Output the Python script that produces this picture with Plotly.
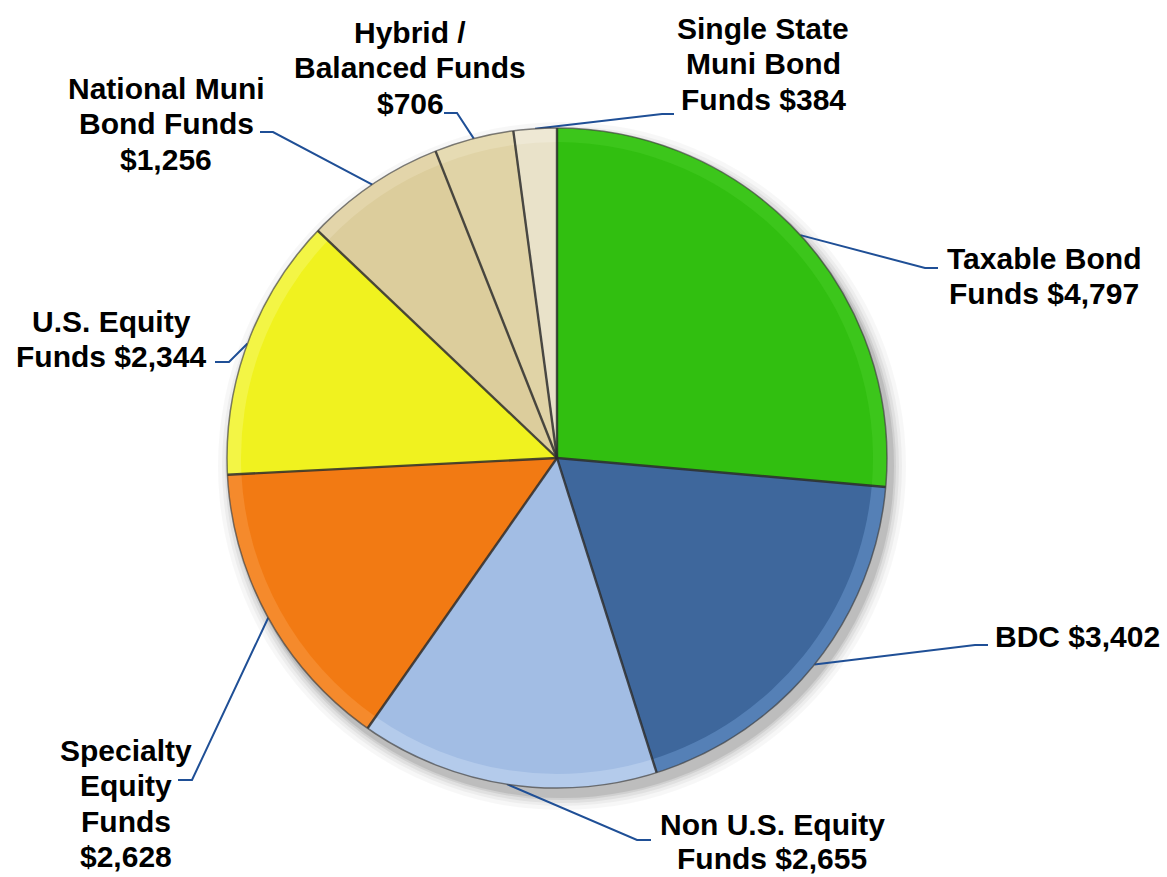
import math
import plotly.graph_objects as go

# Fund categories, clockwise from 12 o'clock
categories = [
    "Taxable Bond Funds", "BDC", "Non U.S. Equity Funds", "Specialty Equity Funds",
    "U.S. Equity Funds", "National Muni Bond Funds", "Hybrid / Balanced Funds",
    "Single State Muni Bond Funds",
]
values = [4797, 3402, 2655, 2628, 2344, 1256, 706, 384]

# Label text, one entry per line; {v} is filled with the formatted value
label_templates = [
    ["Taxable Bond", "Funds {v}"],
    ["BDC {v}"],
    ["Non U.S. Equity", "Funds {v}"],
    ["Specialty", "Equity", "Funds", "{v}"],
    ["U.S. Equity", "Funds {v}"],
    ["National Muni", "Bond Funds", "{v}"],
    ["Hybrid /", "Balanced Funds", "{v}"],
    ["Single State", "Muni Bond", "Funds {v}"],
]

face_colors = ["#31bf10", "#3e679c", "#a2bde4", "#f27a13", "#f0f21f", "#dccd9c", "#e0d3a6", "#e9e2c9"]
rim_colors = ["#3cc61b", "#5580b6", "#b4cbeb", "#f58a2c", "#f3f545", "#e3d5aa", "#e6dbb3", "#eee8d4"]

# Page geometry (pixels)
W, H = 1167, 877
CX, CY, R = 557, 458, 330
R_INNER = 316

# Label placement: text centre x, first line y, line step, leader elbow and end points
label_layout = [
    dict(x=1044, y=258, step=35.5, elbow=(925, 268), end=(938, 268)),
    dict(x=1077, y=636, step=35.5, elbow=(975, 645), end=(988, 645)),
    dict(x=772, y=824, step=34, elbow=(637, 840), end=(651, 840)),
    dict(x=126, y=750, step=35.5, elbow=(192, 780), end=(178, 780)),
    dict(x=111, y=321, step=35.5, elbow=(229, 362), end=(215, 362)),
    dict(x=166, y=88, step=35.5, elbow=(273, 132), end=(260, 132)),
    dict(x=410, y=32, step=35.5, elbow=(457, 113), end=(444, 113)),
    dict(x=763, y=28, step=35.5, elbow=(662, 114), end=(674, 114)),
]

total = sum(values)


def edge_point(frac, r=R):
    ang = 2 * math.pi * frac
    return CX + r * math.sin(ang), CY - r * math.cos(ang)


def domain_for(r):
    return dict(
        x=[(CX - r) / W, (CX + r) / W],
        y=[(H - CY - r) / H, (H - CY + r) / H],
    )


fig = go.Figure()

# Soft drop shadow beneath the pie
shapes = []
for grow, alpha in [(14, 0.03), (10, 0.04), (7, 0.05), (4, 0.07), (2, 0.09)]:
    ox, oy = 5, 8
    rr = R + grow
    shapes.append(dict(
        type="circle", xref="x", yref="y", layer="below",
        x0=CX + ox - rr, x1=CX + ox + rr, y0=CY + oy - rr, y1=CY + oy + rr,
        fillcolor=f"rgba(0,0,0,{alpha})", line=dict(width=0),
    ))

# Outer bevel rim
fig.add_trace(go.Pie(
    labels=categories, values=values, sort=False, direction="clockwise", rotation=0,
    marker=dict(colors=rim_colors, line=dict(width=0)),
    textinfo="none", hoverinfo="label+value", domain=domain_for(R), showlegend=False,
))
# Slice faces
fig.add_trace(go.Pie(
    labels=categories, values=values, sort=False, direction="clockwise", rotation=0,
    marker=dict(colors=face_colors, line=dict(width=0)),
    textinfo="none", hoverinfo="label+value", domain=domain_for(R_INNER), showlegend=False,
))

# Slice separators
cum = 0
for v in values:
    ex, ey = edge_point(cum / total)
    shapes.append(dict(type="line", xref="x", yref="y", x0=CX, y0=CY, x1=ex, y1=ey,
                       line=dict(color="rgba(45,45,45,0.85)", width=2.4)))
    cum += v

# Outer edge
shapes.append(dict(type="circle", xref="x", yref="y", x0=CX - R, x1=CX + R, y0=CY - R, y1=CY + R,
                   line=dict(color="rgba(60,60,60,0.65)", width=1.5)))

# Leader lines and labels
annotations = []
cum = 0
for v, tmpl, lay in zip(values, label_templates, label_layout):
    mid = (cum + v / 2) / total
    cum += v
    ex, ey = edge_point(mid)
    fig.add_trace(go.Scatter(
        x=[ex, lay["elbow"][0], lay["end"][0]], y=[ey, lay["elbow"][1], lay["end"][1]],
        mode="lines", line=dict(color="#1f4f96", width=2), hoverinfo="skip", showlegend=False,
    ))
    value_text = f"${v:,}"
    for k, line in enumerate(tmpl):
        annotations.append(dict(
            x=lay["x"], y=lay["y"] + k * lay["step"], xref="x", yref="y",
            text="<b>" + line.format(v=value_text) + "</b>", showarrow=False,
            xanchor="center", yanchor="middle",
            font=dict(family="Liberation Sans, Arial, sans-serif", size=30, color="#000000"),
        ))

fig.update_layout(
    width=W, height=H, margin=dict(l=0, r=0, t=0, b=0),
    paper_bgcolor="white", plot_bgcolor="rgba(0,0,0,0)",
    xaxis=dict(range=[0, W], visible=False, fixedrange=True, domain=[0, 1]),
    yaxis=dict(range=[H, 0], visible=False, fixedrange=True, domain=[0, 1]),
    shapes=shapes, annotations=annotations, showlegend=False,
)

fig.write_html("out.html")
